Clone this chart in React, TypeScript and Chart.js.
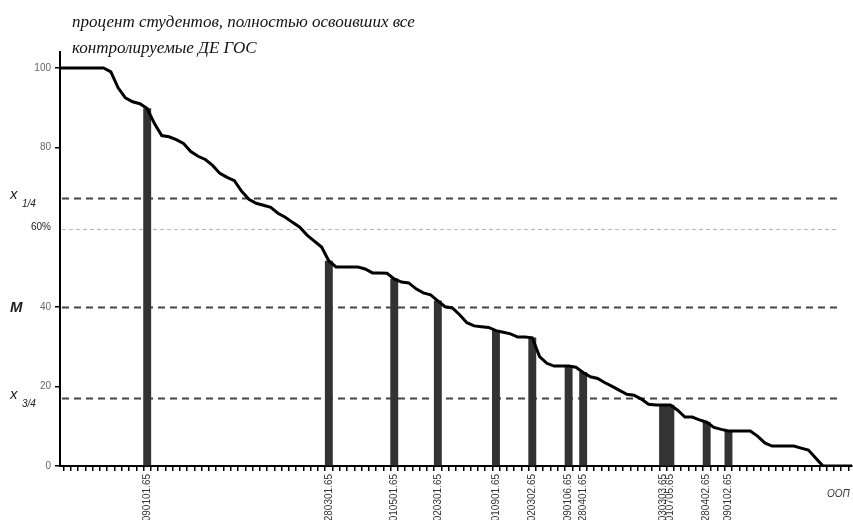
import { useEffect, useRef } from "react";
import { Chart, registerables } from "chart.js";

Chart.register(...registerables);

// Share of students who mastered all controlled DE of GOS, sorted by programme (ООП)
const curveValues: number[] = [
  100, 100, 100, 100, 100, 100, 100, 99, 95, 92.5,
  91.5, 91, 89.8, 86, 83, 82.7, 82, 81, 79, 77.8,
  77, 75.5, 73.5, 72.5, 71.7, 69, 67, 66, 65.5, 65,
  63.5, 62.5, 61.2, 60, 58, 56.5, 55, 51.5, 50, 50,
  50, 50, 49.5, 48.5, 48.5, 48.4, 47, 46.2, 46, 44.5,
  43.5, 43, 41.5, 40, 39.7, 38, 36, 35.2, 35, 34.8,
  34, 33.6, 33.2, 32.4, 32.4, 32.2, 27.5, 25.8, 25.1, 25.1,
  25.1, 24.8, 23.5, 22.4, 22, 20.9, 20, 19, 18, 17.8,
  16.8, 15.5, 15.3, 15.3, 15.3, 14, 12.3, 12.3, 11.6, 11,
  9.7, 9.2, 8.8, 8.8, 8.8, 8.8, 7.5, 5.8, 5, 5,
  5, 5, 4.5, 4, 2, 0, 0, 0, 0, 0,
];

// Highlighted programmes (codes) and their positions in the sorted list
const oopCodes: string[] = [
  "090101.65", "280301.65", "010501.65", "020301.65", "010901.65", "020302.65",
  "090106.65", "280401.65", "030303.65", "010705.65", "280402.65", "090102.65",
];
const oopIndex: number[] = [12, 37, 46, 52, 60, 65, 70, 72, 83, 84, 89, 92];

// Reference levels
const refLabels: string[] = ["x1/4", "60%", "M", "x3/4"];
const refValues: number[] = [67.3, 59.6, 40, 17.2];
const refEndIndex = 107;

const yTicks: number[] = [0, 20, 40, 60, 80, 100];

const titleLines: string[] = [
  "процент студентов, полностью освоивших все",
  "контролируемые ДЕ ГОС",
];
const xAxisName = "ООП";

const categories: string[] = curveValues.map((_, i) => {
  const k = oopIndex.indexOf(i);
  return k >= 0 ? oopCodes[k] : "";
});
const barValues: (number | null)[] = curveValues.map((v, i) =>
  oopIndex.indexOf(i) >= 0 ? v : null
);

const annotPlugin = {
  id: "annot",
  beforeDatasetsDraw(chart: any) {
    const { ctx, chartArea, scales } = chart;
    const y = scales.y;
    const x = scales.x;
    const xEnd = x.getPixelForValue(refEndIndex);
    ctx.save();
    refValues.forEach((v, i) => {
      const py = Math.round(y.getPixelForValue(v)) + 0.5;
      ctx.beginPath();
      if (refLabels[i] === "60%") {
        ctx.strokeStyle = "#b5b5b5";
        ctx.lineWidth = 1;
        ctx.setLineDash([4, 3]);
      } else {
        ctx.strokeStyle = "#444";
        ctx.lineWidth = 2;
        ctx.setLineDash([7, 5]);
      }
      ctx.moveTo(chartArea.left + 2, py);
      ctx.lineTo(xEnd, py);
      ctx.stroke();
    });
    ctx.restore();
  },
  afterDraw(chart: any) {
    const { ctx, scales } = chart;
    const y = scales.y;
    ctx.save();
    ctx.fillStyle = "#111";
    ctx.textAlign = "left";
    ctx.textBaseline = "alphabetic";
    ctx.font = 'italic 17px "Liberation Serif"';
    ctx.fillText(titleLines[0], 72, 27);
    ctx.fillText(titleLines[1], 72, 53);

    // side labels of the reference lines
    refValues.forEach((v, i) => {
      const lab = refLabels[i];
      const py = y.getPixelForValue(v);
      ctx.fillStyle = "#222";
      if (lab === "M") {
        ctx.font = 'bold italic 15px "Liberation Sans"';
        ctx.fillText("M", 10, py + 5);
      } else if (lab.startsWith("x")) {
        ctx.font = 'italic 15px "Liberation Sans"';
        ctx.fillText("x", 10, py + 1);
        ctx.font = 'italic 10px "Liberation Sans"';
        ctx.fillText(lab.slice(1), 22, py + 9);
      }
    });

    ctx.fillStyle = "#333";
    ctx.font = 'italic 10px "Liberation Sans"';
    ctx.fillText(xAxisName, 827, 497);
    ctx.restore();
  },
};

export default function App() {
  const ref = useRef<HTMLCanvasElement>(null);
  useEffect(() => {
    if (!ref.current) return;
    const chart = new Chart(ref.current, {
      type: "bar",
      data: {
        labels: categories,
        datasets: [
          {
            type: "line",
            data: curveValues,
            borderColor: "#000",
            borderWidth: 3,
            pointRadius: 0,
            tension: 0,
            fill: false,
            order: 1,
          } as any,
          {
            type: "bar",
            data: barValues,
            backgroundColor: "#333",
            barPercentage: 1,
            categoryPercentage: 1,
            order: 2,
          },
        ],
      },
      plugins: [annotPlugin],
      options: {
        responsive: false,
        animation: false,
        layout: { padding: { top: 52, right: 1, left: 0, bottom: 0 } },
        plugins: {
          legend: { display: false },
          tooltip: { enabled: false },
          title: { display: false },
        },
        scales: {
          x: {
            type: "category",
            offset: false,
            border: { color: "#000", width: 2 },
            grid: {
              drawOnChartArea: false,
              drawTicks: true,
              tickLength: 5,
              color: "#000",
              lineWidth: 1.5,
            },
            ticks: {
              autoSkip: false,
              minRotation: 90,
              maxRotation: 90,
              padding: 3,
              color: "#333",
              font: { family: "Liberation Sans", size: 10 },
            },
            afterFit: (scale: any) => {
              scale.height = 54;
              scale.paddingLeft = 0;
              scale.paddingRight = 0;
            },
          },
          y: {
            min: 0,
            max: 104,
            border: { color: "#000", width: 2 },
            grid: {
              drawOnChartArea: false,
              tickLength: 5,
              tickColor: (c: any) => (c.tick && c.tick.value === 60 ? "rgba(0,0,0,0)" : "#000"),
              lineWidth: 1.5,
            },
            afterBuildTicks: (scale: any) => {
              scale.ticks = yTicks.map((v) => ({ value: v }));
            },
            ticks: {
              padding: 4,
              color: (c: any) => (c.tick && c.tick.value === 60 ? "#222" : "#666"),
              font: { family: "Liberation Sans", size: 10 },
              callback: (v: any) => (v === 60 ? "60%" : String(v)),
            },
            afterFit: (scale: any) => {
              scale.width = 60;
            },
          },
        },
      },
    });
    return () => chart.destroy();
  }, []);
  return (
    <div style={{ position: "fixed", left: 0, top: 0, width: 853, height: 520, background: "#fff" }}>
      <canvas ref={ref} width={853} height={520} style={{ display: "block" }} />
    </div>
  );
}
